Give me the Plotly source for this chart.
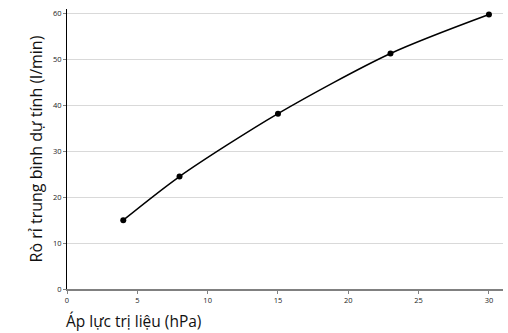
import plotly.graph_objects as go

# Therapy pressure (hPa) vs. estimated mean leak (l/min)
pressure = [4, 8, 15, 23, 30]
leak = [15.0, 24.5, 38.2, 51.3, 59.8]
x_ticks = [0, 5, 10, 15, 20, 25, 30]
y_ticks = [0, 10, 20, 30, 40, 50, 60]

fig = go.Figure()
fig.add_trace(go.Scatter(
    x=pressure, y=leak, mode="lines+markers",
    line=dict(color="black", width=1.5, shape="spline", smoothing=0.8),
    marker=dict(color="black", size=6),
    showlegend=False,
))

fig.update_layout(
    width=508, height=333,
    margin=dict(l=67, r=5, t=9, b=44),
    plot_bgcolor="white", paper_bgcolor="white",
    font=dict(family="Open Sans, DejaVu Sans, sans-serif", color="#222"),
)
fig.update_xaxes(
    range=[0, 31], tickvals=x_ticks, showgrid=False, zeroline=False,
    showline=True, linecolor="#808080", linewidth=2,
    ticks="outside", ticklen=3, tickcolor="#808080",
    tickfont=dict(size=7.5, color="#222"),
)
fig.update_yaxes(
    range=[0, 61], tickvals=y_ticks, showgrid=True, gridcolor="#d9d9d9",
    gridwidth=1, zeroline=False, showline=True, linecolor="black",
    linewidth=1, ticks="outside", ticklen=3, tickcolor="#808080",
    tickfont=dict(size=7.5, color="#222"),
    title=dict(text="Rò rỉ trung bình dự tính (l/min)",
               font=dict(size=16, color="#111"), standoff=6),
)
fig.add_annotation(
    text="Áp lực trị liệu (hPa)", xref="paper", yref="paper",
    x=-0.006, y=-0.116, xanchor="left", yanchor="middle", showarrow=False,
    font=dict(size=15.5, color="#111"),
)

fig.write_html("out.html")
